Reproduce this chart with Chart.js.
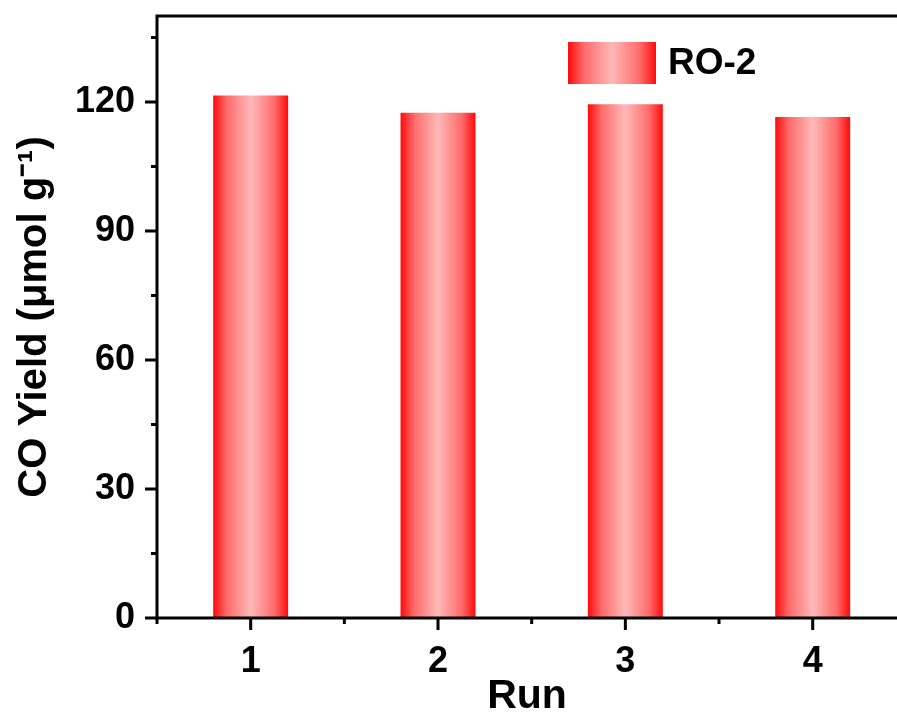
<!DOCTYPE html>
<html>
<head>
<meta charset="utf-8">
<title>CO Yield per Run</title>
<script src="https://cdn.jsdelivr.net/npm/chart.js@4.4.1/dist/chart.umd.min.js"></script>
<style>
    html, body { margin: 0; padding: 0; background: #fff; overflow: hidden; }
</style>
</head>
<body>
<canvas id="yieldChart" width="897" height="722"></canvas>
<script>
// Recycling runs and CO yield for RO-2
const runs = [1, 2, 3, 4];
const coYield = [121.5, 117.5, 119.5, 116.5];
const seriesName = 'RO-2';

// visible run range: the figure is cut just short of 4.5 on the right
const runMin = 0.5;
const runMax = 4.45;

const FONT = "Arial, 'Liberation Sans', sans-serif";
const BAR_FRACTION = 0.4;

// red -> pale pink -> red, across the width of a bar
function barGradient(ctx, x0, x1) {
    const g = ctx.createLinearGradient(x0, 0, x1, 0);
    g.addColorStop(0, '#ff0a0a');
    g.addColorStop(0.18, '#ff6a6a');
    g.addColorStop(0.5, '#ffb9b9');
    g.addColorStop(0.82, '#ff6a6a');
    g.addColorStop(1, '#ff0a0a');
    return g;
}

// axis lines, top border and outward tick marks (major and minor)
const frameAndTicks = {
    id: 'frameAndTicks',
    afterDraw(chart) {
        const { ctx, chartArea: a, scales } = chart;
        const xs = scales.x, ys = scales.y;
        ctx.save();
        ctx.strokeStyle = '#000';
        ctx.lineWidth = 3;
        ctx.beginPath();
        ctx.moveTo(a.right + 2, a.top);
        ctx.lineTo(a.left, a.top);
        ctx.lineTo(a.left, a.bottom);
        ctx.lineTo(a.right + 2, a.bottom);
        ctx.stroke();

        // y ticks: major every 30, minor in between
        for (let v = ys.min; v <= ys.max; v += 15) {
            const y = ys.getPixelForValue(v);
            const len = v % 30 === 0 ? 12 : 6;
            ctx.beginPath();
            ctx.moveTo(a.left - len, y);
            ctx.lineTo(a.left, y);
            ctx.stroke();
        }

        // x ticks: major on each run, minor half way between
        for (let v = runMin; v <= runMax; v += 0.5) {
            const x = xs.getPixelForValue(v);
            const len = Number.isInteger(v) ? 12 : 6;
            ctx.beginPath();
            ctx.moveTo(x, a.bottom);
            ctx.lineTo(x, a.bottom + len);
            ctx.stroke();
        }
        ctx.restore();
    }
};

// legend swatch with the same gradient as the bars
const gradientLegend = {
    id: 'gradientLegend',
    afterDraw(chart) {
        const { ctx } = chart;
        const x = 568, y = 42, w = 88, h = 42;
        ctx.save();
        ctx.fillStyle = barGradient(ctx, x, x + w);
        ctx.fillRect(x, y, w, h);
        ctx.fillStyle = '#000';
        ctx.font = 'bold 37px ' + FONT;
        ctx.textAlign = 'left';
        ctx.textBaseline = 'middle';
        ctx.fillText(chart.data.datasets[0].label, x + w + 12, y + h / 2 + 1);
        ctx.restore();
    }
};

const canvas = document.getElementById('yieldChart');

new Chart(canvas, {
    type: 'bar',
    data: {
        datasets: [{
            label: seriesName,
            data: runs.map((r, i) => ({ x: r, y: coYield[i] })),
            backgroundColor: function(context) {
                const chart = context.chart;
                const xs = chart.scales.x;
                if (!chart.chartArea || !xs) return '#ff4040';
                const run = runs[context.dataIndex];
                const cx = xs.getPixelForValue(run);
                const half = (xs.getPixelForValue(run + 1) - cx) * BAR_FRACTION / 2;
                return barGradient(chart.ctx, cx - half, cx + half);
            },
            borderWidth: 0,
            categoryPercentage: 1.0,
            barPercentage: BAR_FRACTION
        }]
    },
    options: {
        responsive: false,
        animation: false,
        devicePixelRatio: 1,
        layout: { padding: { top: 16, right: 0, left: 0, bottom: 0 } },
        plugins: {
            legend: { display: false },
            tooltip: { enabled: false }
        },
        scales: {
            x: {
                type: 'linear',
                min: runMin,
                max: runMax,
                offset: false,
                grid: { display: false, drawTicks: false },
                border: { display: false },
                afterBuildTicks(scale) {
                    scale.ticks = runs.map(v => ({ value: v }));
                },
                ticks: {
                    color: '#000',
                    padding: 22,
                    autoSkip: false,
                    maxRotation: 0,
                    font: { family: FONT, size: 36, weight: 'bold' },
                    callback: v => String(v)
                },
                title: {
                    display: true,
                    text: 'Run',
                    color: '#000',
                    font: { family: FONT, size: 41, weight: 'bold', lineHeight: 1.2 },
                    padding: { top: 0, bottom: 1 }
                },
                afterFit(scale) {
                    scale.height = 104;
                    scale.paddingLeft = 0;
                    scale.paddingRight = 0;
                }
            },
            y: {
                min: 0,
                max: 140,
                grid: { display: false, drawTicks: false },
                border: { display: false },
                ticks: {
                    stepSize: 15,
                    color: '#000',
                    padding: 22,
                    font: { family: FONT, size: 36, weight: 'bold' },
                    callback: v => (v % 30 === 0 ? v : '')
                },
                title: {
                    display: true,
                    text: 'CO Yield (μmol g⁻¹)',
                    color: '#000',
                    font: { family: FONT, size: 40, weight: 'bold', lineHeight: 1.2 },
                    padding: { top: 11, bottom: 0 }
                },
                afterFit(scale) {
                    scale.width = 157;
                    scale.paddingTop = 0;
                    scale.paddingBottom = 0;
                }
            }
        }
    },
    plugins: [frameAndTicks, gradientLegend]
});
</script>
</body>
</html>
